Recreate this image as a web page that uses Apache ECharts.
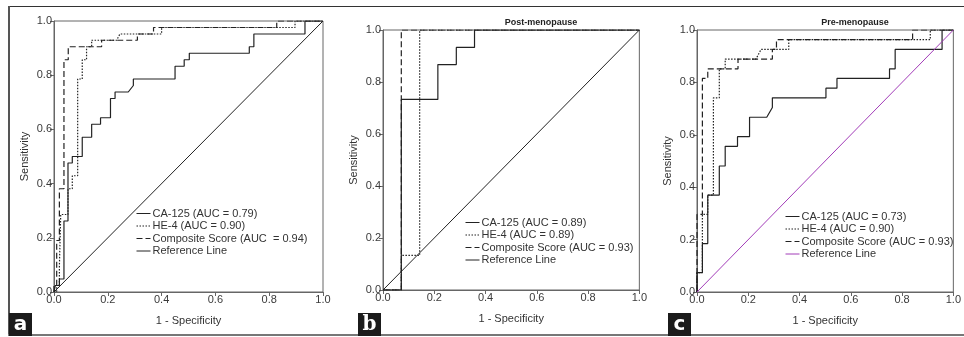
<!DOCTYPE html>
<html>
<head>
<meta charset="utf-8">
<script src="https://cdn.jsdelivr.net/npm/echarts@6/dist/echarts.min.js"></script>
<style>
  html, body { margin: 0; padding: 0; background: #fff; }
  #page { position: relative; width: 964px; height: 337px; overflow: hidden; }
  .frame { position: absolute; background: #555; }
  .panel { position: absolute; top: 0; height: 337px; }
  .badge {
    position: absolute; top: 313px; width: 23px; height: 23px;
    background: #1b1b1b; color: #fff; font-weight: bold;
    font-size: 20px; line-height: 21px; text-align: center;
  }
</style>
</head>
<body>
<div id="page">
  <div class="frame" style="left:8px;top:6px;width:956px;height:1px;background:#333"></div>
  <div class="frame" style="left:8px;top:6px;width:2px;height:330px"></div>
  <div class="frame" style="left:8px;top:334px;width:956px;height:2px;background:#777"></div>
  <div id="chartA" class="panel" style="left:0;width:335px"></div>
  <div id="chartB" class="panel" style="left:335px;width:315px"></div>
  <div id="chartC" class="panel" style="left:650px;width:314px"></div>
  <div class="badge" style="left:9px;font-family:'DejaVu Sans'">a</div>
  <div class="badge" style="left:358px;font-family:'DejaVu Serif'">b</div>
  <div class="badge" style="left:668px;font-family:'DejaVu Sans'">c</div>
</div>
<script>
// ROC curves: [1 - specificity, sensitivity]
const referenceLine = [[0, 0], [1, 1]];

// panel a - all patients
const ca125A = [[0,0],[0.005,0],[0.005,0.024],[0.02,0.024],[0.02,0.048],[0.037,0.048],[0.037,0.262],
  [0.052,0.262],[0.052,0.476],[0.068,0.476],[0.068,0.5],[0.105,0.5],[0.105,0.571],[0.14,0.571],
  [0.14,0.619],[0.173,0.619],[0.173,0.643],[0.21,0.643],[0.21,0.714],[0.227,0.714],[0.227,0.738],
  [0.276,0.738],[0.295,0.762],[0.295,0.786],[0.45,0.786],[0.45,0.833],[0.484,0.833],[0.484,0.857],
  [0.503,0.857],[0.503,0.881],[0.726,0.881],[0.726,0.905],[0.743,0.905],[0.743,0.952],[0.933,0.952],
  [0.933,1],[1,1]];
const he4A = [[0,0],[0.01,0],[0.01,0.024],[0.02,0.024],[0.02,0.095],[0.025,0.095],[0.025,0.286],
  [0.052,0.286],[0.052,0.381],[0.068,0.381],[0.068,0.429],[0.088,0.429],[0.088,0.786],[0.105,0.786],
  [0.105,0.857],[0.121,0.857],[0.121,0.905],[0.14,0.905],[0.14,0.929],[0.233,0.929],[0.245,0.952],
  [0.4,0.952],[0.4,0.976],[0.896,0.976],[0.896,1],[1,1]];
const compositeA = [[0,0],[0,0.024],[0.01,0.024],[0.01,0.19],[0.02,0.19],[0.02,0.381],[0.037,0.381],
  [0.037,0.857],[0.053,0.857],[0.053,0.905],[0.177,0.905],[0.177,0.929],[0.31,0.929],[0.31,0.952],
  [0.37,0.952],[0.37,0.976],[0.828,0.976],[0.828,1],[1,1]];
const namesA = ['CA-125 (AUC = 0.79)', 'HE-4 (AUC = 0.90)', 'Composite Score (AUC  = 0.94)', 'Reference Line'];

// panel b - post-menopause
const ca125B = [[0,0],[0.0714,0],[0.0714,0.733],[0.214,0.733],[0.214,0.867],[0.286,0.867],
  [0.286,0.933],[0.357,0.933],[0.357,1],[1,1]];
const he4B = [[0,0],[0.0714,0],[0.0714,0.133],[0.143,0.133],[0.143,1],[1,1]];
const compositeB = [[0,0],[0.0714,0],[0.0714,1],[1,1]];
const namesB = ['CA-125 (AUC = 0.89)', 'HE-4 (AUC = 0.89)', 'Composite Score (AUC = 0.93)', 'Reference Line'];

// panel c - pre-menopause
const ca125C = [[0,0],[0,0.074],[0.021,0.074],[0.021,0.185],[0.042,0.185],[0.042,0.37],[0.087,0.37],
  [0.087,0.481],[0.11,0.481],[0.11,0.556],[0.158,0.556],[0.158,0.593],[0.205,0.593],[0.205,0.667],
  [0.272,0.667],[0.294,0.704],[0.294,0.741],[0.503,0.741],[0.503,0.778],[0.546,0.778],[0.546,0.815],
  [0.751,0.815],[0.751,0.852],[0.773,0.852],[0.773,0.926],[0.956,0.926],[0.956,1],[1,1]];
const he4C = [[0,0],[0,0.074],[0.021,0.074],[0.021,0.296],[0.042,0.296],[0.042,0.37],[0.064,0.37],
  [0.064,0.741],[0.087,0.741],[0.087,0.852],[0.11,0.852],[0.11,0.889],[0.23,0.889],[0.25,0.926],
  [0.358,0.926],[0.358,0.963],[0.91,0.963],[0.91,1],[1,1]];
const compositeC = [[0,0],[0,0.296],[0.021,0.296],[0.021,0.815],[0.042,0.815],[0.042,0.852],
  [0.16,0.852],[0.16,0.889],[0.294,0.889],[0.294,0.926],[0.31,0.926],[0.31,0.963],[0.841,0.963],
  [0.841,1],[1,1]];
const namesC = ['CA-125 (AUC = 0.73)', 'HE-4 (AUC = 0.90)', 'Composite Score (AUC = 0.93)', 'Reference Line'];

const FONT = "'Liberation Sans', Arial, sans-serif";

const axisBase = (name, gap, moveOverlap) => ({
  type: 'value',
  min: 0,
  max: 1,
  interval: 0.2,
  name: name,
  nameLocation: 'middle',
  nameGap: gap,
  nameMoveOverlap: moveOverlap,
  nameTextStyle: { fontFamily: FONT, fontSize: 11, color: '#333' },
  axisLine: { show: true, lineStyle: { color: '#666', width: 1 } },
  axisTick: { show: true, inside: false, length: 4, lineStyle: { color: '#666' } },
  axisLabel: {
    fontFamily: FONT, fontSize: 11, color: '#3a3a3a', margin: 2,
    formatter: (v) => v.toFixed(1)
  },
  splitLine: { show: false }
});

function makePanel(el, cfg) {
  const chart = echarts.init(el, null, { renderer: 'canvas' });
  const line = (name, data, type, color, width) => ({
    name: name,
    type: 'line',
    data: data,
    symbol: 'none',
    lineStyle: { color: color, width: width, type: type },
    itemStyle: { color: color },
    emphasis: { disabled: true },
    z: 3
  });

  chart.setOption({
    animation: false,
    title: cfg.title ? {
      text: cfg.title,
      left: cfg.titleX,
      top: 13,
      textAlign: 'center',
      textStyle: { fontFamily: FONT, fontSize: 9, fontWeight: 'bold', color: '#222' }
    } : undefined,
    grid: {
      left: cfg.grid[0], top: cfg.grid[1], width: cfg.grid[2], height: cfg.grid[3],
      show: true, borderColor: '#666', borderWidth: 1, backgroundColor: 'transparent'
    },
    legend: {
      orient: 'vertical',
      left: cfg.legend[0],
      top: cfg.legend[1],
      itemWidth: 14,
      itemHeight: 11,
      itemGap: 1.5,
      selectedMode: false,
      itemStyle: { color: 'rgba(0,0,0,0)', borderColor: 'rgba(0,0,0,0)', borderWidth: 0 },
      lineStyle: { width: 1 },
      textStyle: { fontFamily: FONT, fontSize: 11, lineHeight: 11, color: '#333', padding: [0, 0, 0, -3] },
      data: cfg.names
    },
    xAxis: axisBase('1 - Specificity', 23, true),
    yAxis: axisBase('Sensitivity', 24, false),
    series: [
      line(cfg.names[0], cfg.ca125, 'solid', '#222', 1.2),
      line(cfg.names[1], cfg.he4, [1.5, 1.5], '#222', 1.2),
      line(cfg.names[2], cfg.composite, [6, 3], '#222', 1.2),
      line(cfg.names[3], referenceLine, 'solid', cfg.refColor, 1)
    ]
  });
  return chart;
}

makePanel(document.getElementById('chartA'), {
  grid: [54, 21, 269, 271],
  legend: [131, 203],
  names: namesA,
  ca125: ca125A, he4: he4A, composite: compositeA,
  refColor: '#222'
});

makePanel(document.getElementById('chartB'), {
  title: 'Post-menopause',
  titleX: 201,
  grid: [48, 30, 260, 260],
  legend: [125, 212],
  names: namesB,
  ca125: ca125B, he4: he4B, composite: compositeB,
  refColor: '#222'
});

makePanel(document.getElementById('chartC'), {
  title: 'Pre-menopause',
  titleX: 200,
  grid: [47, 30, 260, 262],
  legend: [130, 206],
  names: namesC,
  ca125: ca125C, he4: he4C, composite: compositeC,
  refColor: '#a23cb8'
});
</script>
</body>
</html>
